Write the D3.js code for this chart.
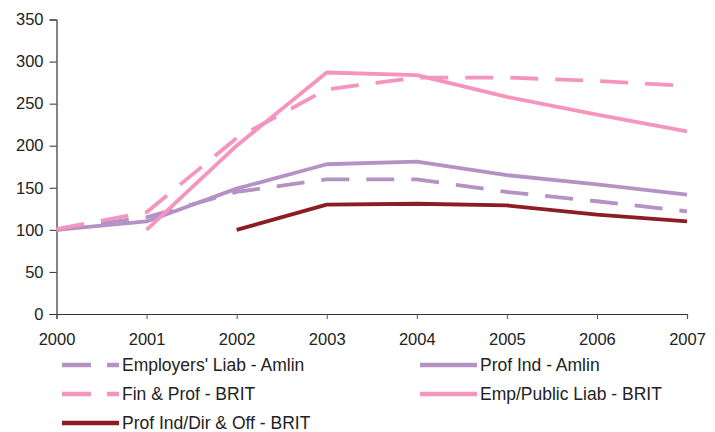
<!DOCTYPE html>
<html>
<head>
<meta charset="utf-8">
<script src="https://cdn.jsdelivr.net/npm/d3@7/dist/d3.min.js"></script>
<style>
  html, body { margin: 0; padding: 0; background: #fff; }
  svg text { font-family: "Liberation Sans", Arial, sans-serif; fill: #222; }
</style>
</head>
<body>
<svg id="chart" width="715" height="432"></svg>
<script>
// Index values (base = 100) by year
const years = [2000, 2001, 2002, 2003, 2004, 2005, 2006, 2007];
const yTicks = [0, 50, 100, 150, 200, 250, 300, 350];

const employersLiabAmlin = [100, 115, 145, 160, 160, 145, 134, 122];
const profIndAmlin       = [100, 110, 149, 178, 181, 165, 154, 142];
const finProfBrit        = [101, 121, 209, 267, 281, 281, 277, 271];
const empPublicLiabBrit  = [null, 100, 200, 287, 284, 258, 237, 217];
const profIndDirOffBrit  = [null, null, 100, 130, 131, 129, 118, 110];

const seriesNames = [
  "Employers' Liab - Amlin",
  "Prof Ind - Amlin",
  "Fin & Prof - BRIT",
  "Emp/Public Liab - BRIT",
  "Prof Ind/Dir & Off - BRIT"
];
const seriesValues = [employersLiabAmlin, profIndAmlin, finProfBrit, empPublicLiabBrit, profIndDirOffBrit];
const seriesColors = ["#b592c4", "#b592c4", "#f495bf", "#f495bf", "#8c1d24"];
const seriesDashed = [true, false, true, false, false];

const svg = d3.select("#chart");
const x = d3.scaleLinear().domain([2000, 2007]).range([56.5, 687]);
const y = d3.scaleLinear().domain([0, 350]).range([314, 19.5]);

// Axes
const yAxis = d3.axisLeft(y).tickValues(yTicks).tickSize(7).tickPadding(6);
const gy = svg.append("g").attr("transform", "translate(56.5,0)").call(yAxis);
gy.select(".domain").attr("stroke", "#333").attr("stroke-width", 1.2);
gy.selectAll(".tick line").attr("stroke", "#333");
gy.selectAll(".tick text").style("font-size", "16.5px").attr("fill", "#222");

const xAxis = d3.axisBottom(x).tickValues(years).tickFormat(d3.format("d")).tickSize(5).tickPadding(14);
const gx = svg.append("g").attr("transform", "translate(0,314)").call(xAxis);
gx.select(".domain").attr("stroke", "#333").attr("stroke-width", 1.2);
gx.selectAll(".tick line").attr("stroke", "#555");
gx.selectAll(".tick text").style("font-size", "16.5px").attr("fill", "#222");

// Lines
const line = d3.line()
  .defined(d => d.v !== null)
  .x(d => x(d.year))
  .y(d => y(d.v));

seriesValues.forEach((vals, i) => {
  const pts = years.map((yr, j) => ({ year: yr, v: vals[j] }));
  svg.append("path")
    .datum(pts)
    .attr("fill", "none")
    .attr("stroke", seriesColors[i])
    .attr("stroke-width", 3.8)
    .attr("stroke-linejoin", "round")
    .attr("stroke-dasharray", seriesDashed[i] ? "28,17" : null)
    .attr("d", line);
});

// Legend
const legendPos = [
  { x: 62, y: 365 }, { x: 420, y: 365 },
  { x: 62, y: 394 }, { x: 420, y: 394 },
  { x: 62, y: 423 }
];
const legend = svg.append("g");
seriesNames.forEach((name, i) => {
  const p = legendPos[i];
  legend.append("line")
    .attr("x1", p.x).attr("x2", p.x + 57)
    .attr("y1", p.y).attr("y2", p.y)
    .attr("stroke", seriesColors[i])
    .attr("stroke-width", 4.5)
    .attr("stroke-dasharray", seriesDashed[i] ? "29,16" : null);
  legend.append("text")
    .attr("x", p.x + 60).attr("y", p.y)
    .attr("dy", "0.35em")
    .style("font-size", "17.5px")
    .text(name);
});
</script>
</body>
</html>
